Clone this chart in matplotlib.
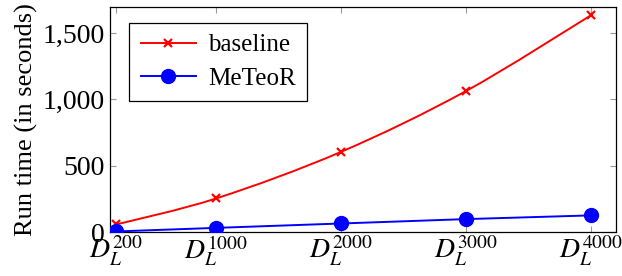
import numpy as np
import matplotlib
matplotlib.use("Agg")
import matplotlib.pyplot as plt
from matplotlib.path import Path
import matplotlib.patches as mpatches
from matplotlib.lines import Line2D
from matplotlib.ticker import FuncFormatter

plt.rcParams['font.family'] = ['Liberation Serif', 'DejaVu Serif']
plt.rcParams['mathtext.fontset'] = 'stix'

# data
sizes = [200, 1000, 2000, 3000, 4000]
size_labels = [r'$D_L^{200}$', r'$D_L^{1000}$', r'$D_L^{2000}$', r'$D_L^{3000}$', r'$D_L^{4000}$']
baseline = [58, 254, 605, 1063, 1633]
meteor = [5, 32, 65, 98, 126]
series_names = ['baseline', 'MeTeoR']


def smooth_path(xs, ys, tension=0.5):
    # bezier through the points, like pgfplots "smooth"
    pts = np.column_stack([xs, ys]).astype(float)
    verts = [pts[0]]
    codes = [Path.MOVETO]
    n = len(pts)
    for i in range(n - 1):
        p0 = pts[i - 1] if i > 0 else pts[i]
        p1 = pts[i]
        p2 = pts[i + 1]
        p3 = pts[i + 2] if i + 2 < n else pts[i + 1]
        c1 = p1 + (p2 - p0) * tension / 3
        c2 = p2 - (p3 - p1) * tension / 3
        verts += [c1, c2, p2]
        codes += [Path.CURVE4] * 3
    return Path(verts, codes)


fig = plt.figure(figsize=(6.22, 2.76), dpi=100)
ax = fig.add_axes([0.177, 0.159, 0.813, 0.816])

ax.add_patch(mpatches.PathPatch(smooth_path(sizes, baseline), fill=False,
                                edgecolor='red', lw=1.4, zorder=3))
ax.plot(sizes, baseline, ls='none', marker='x', color='red', ms=6, mew=1.6, zorder=4)
ax.plot(sizes, meteor, color='blue', lw=1.4, marker='o', ms=10, zorder=4)

ax.set_xlim(150, 4200)
ax.set_ylim(0, 1697)
ax.set_xticks(sizes)
ax.set_xticklabels(size_labels)
ax.set_yticks([0, 500, 1000, 1500])
ax.yaxis.set_major_formatter(FuncFormatter(lambda v, p: '{:,.0f}'.format(v)))
ax.tick_params(direction='in', length=4, color='0.6', labelsize=20,
               top=True, right=True, pad=4)
ax.tick_params(axis='x', labelsize=20, pad=1)
for s in ax.spines.values():
    s.set_linewidth(0.9)

ax.set_ylabel('Run time (in seconds)', fontsize=19, labelpad=3)

handles = [Line2D([], [], color='red', lw=1.4, marker='x', ms=6, mew=1.6),
           Line2D([], [], color='blue', lw=1.4, marker='o', ms=10)]
leg = ax.legend(handles, series_names, loc='upper left',
                bbox_to_anchor=(0.038, 0.93), fontsize=18, fancybox=False,
                edgecolor='black', framealpha=1, handlelength=2.2,
                borderpad=0.45, labelspacing=0.45, handletextpad=0.5,
                borderaxespad=0)
leg.get_frame().set_linewidth(0.9)

fig.savefig('out.png', dpi=100)
